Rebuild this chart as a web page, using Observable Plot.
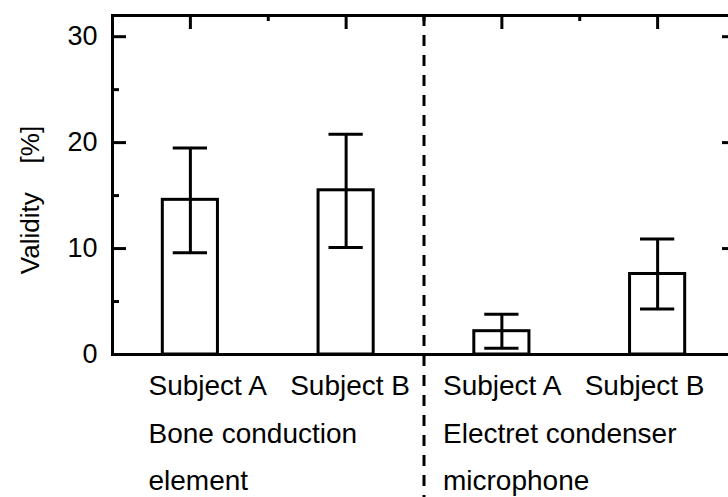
<!DOCTYPE html>
<html>
<head>
<meta charset="utf-8">
<script src="https://cdn.jsdelivr.net/npm/d3@7"></script>
<script src="https://cdn.jsdelivr.net/npm/@observablehq/plot@0.6"></script>
<style>
  html, body { margin: 0; padding: 0; background: #fff; overflow: hidden; }
  #chart { width: 728px; height: 497px; overflow: hidden; }
  #chart svg { max-width: none !important; }
</style>
</head>
<body>
<div id="chart"></div>
<script>
// ---- data ----
const subjects = ["Subject A", "Subject B", "Subject A", "Subject B"];
const validity = [14.6, 15.5, 2.2, 7.6];
const errLow   = [9.6, 10.1, 0.6, 4.3];
const errHigh  = [19.5, 20.8, 3.8, 10.9];
const groups   = ["Bone conduction\nelement", "Electret condenser\nmicrophone"];
const yTitle   = "Validity\u00a0\u00a0\u00a0\u00a0[%]";
const yMajor = [0, 10, 20, 30];
const yMinor = [5, 15, 25];
const xMajor = [1, 2, 3, 4];
const xMinor = [1.5, 2.5, 3.5];
const divider = [2.5];

const rows = subjects.map((s, i) => ({pos: i + 1, subject: s, v: validity[i], lo: errLow[i], hi: errHigh[i]}));
// each group's label block: subject names on the first line, group name below
const gap = "\u00a0\u00a0\u00a0";
const groupText = groups.map((g, k) => `${subjects[2 * k]}${gap}${subjects[2 * k + 1]}\n${g}`);
const halfBar = 0.177, halfCap = 0.11;
const font = "'Liberation Sans', Arial, Helvetica, sans-serif";
const sw = 3;

const chart = Plot.plot({
  width: 748,
  height: 497,
  marginLeft: 112,
  marginRight: 13,
  marginTop: 15,
  marginBottom: 143,
  style: {background: "#fff", color: "#000", fontFamily: font, overflow: "visible", maxWidth: "none"},
  x: {type: "linear", domain: [0.5, 4.5]},
  y: {domain: [0, 32]},
  marks: [
    // bars
    Plot.rectY(rows, {x1: d => d.pos - halfBar, x2: d => d.pos + halfBar, y1: 0, y2: "v",
      fill: "#fff", stroke: "#000", strokeWidth: sw}),
    // error bars
    Plot.ruleX(rows, {x: "pos", y1: "lo", y2: "hi", stroke: "#000", strokeWidth: sw}),
    Plot.ruleY(rows, {y: "lo", x1: d => d.pos - halfCap, x2: d => d.pos + halfCap, stroke: "#000", strokeWidth: sw}),
    Plot.ruleY(rows, {y: "hi", x1: d => d.pos - halfCap, x2: d => d.pos + halfCap, stroke: "#000", strokeWidth: sw}),
    // ticks (inward)
    Plot.axisY(yMajor, {anchor: "left", tickSize: -14, fill: "none", strokeWidth: sw, label: null}),
    Plot.axisY(yMinor, {anchor: "left", tickSize: -7, fill: "none", strokeWidth: sw, label: null}),
    Plot.axisY(yMajor, {anchor: "right", tickSize: -14, fill: "none", strokeWidth: sw, label: null}),
    Plot.axisY(yMinor, {anchor: "right", tickSize: -7, fill: "none", strokeWidth: sw, label: null}),
    Plot.axisX(xMajor, {anchor: "top", tickSize: -13, fill: "none", strokeWidth: sw, label: null}),
    Plot.axisX(xMinor, {anchor: "top", tickSize: -5, fill: "none", strokeWidth: sw, label: null}),
    // y tick labels
    Plot.axisY(yMajor, {anchor: "left", tickSize: 0, tickPadding: 15, fontSize: 27, label: null}),
    // frame
    Plot.frame({stroke: "#000", strokeWidth: sw}),
    // dashed divider
    Plot.ruleX(divider, {x: d => d, insetBottom: -143, stroke: "#000", strokeWidth: sw, strokeDasharray: "11,9"}),
    // group label blocks (subjects + group name)
    Plot.text([groupText[0]], {x: [0.5], frameAnchor: "bottom", dx: 36, dy: 7, textAnchor: "start",
      lineAnchor: "top", lineHeight: 1.7, fontSize: 28, text: d => d}),
    Plot.text([groupText[1]], {x: [2.5], frameAnchor: "bottom", dx: 19, dy: 7, textAnchor: "start",
      lineAnchor: "top", lineHeight: 1.7, fontSize: 28, text: d => d}),
    // y label
    Plot.text([yTitle], {frameAnchor: "left", textAnchor: "middle", dx: -82, dy: 15, rotate: -90, fontSize: 26, text: d => d})
  ]
});
document.getElementById("chart").append(chart);
</script>
</body>
</html>
